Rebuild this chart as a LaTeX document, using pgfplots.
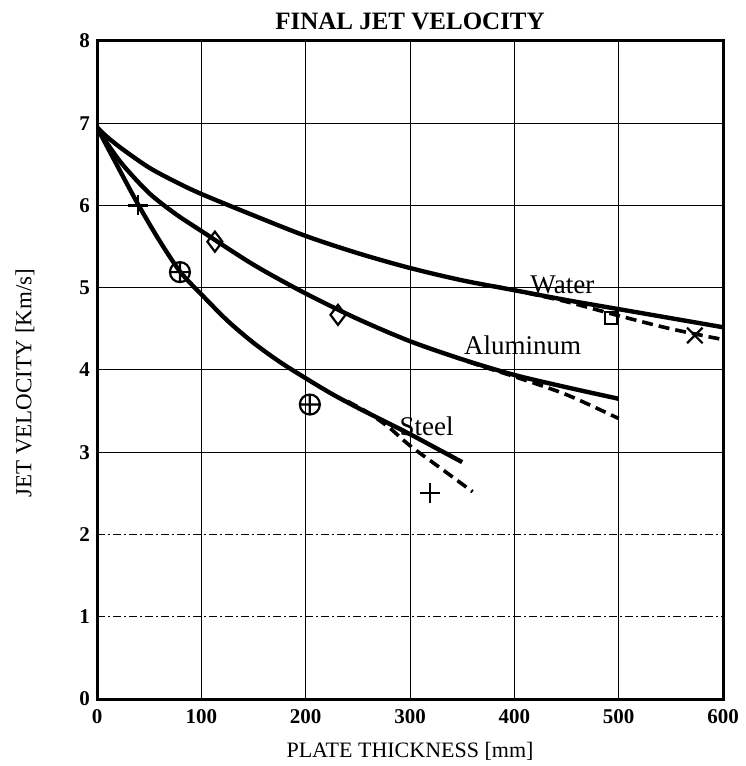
\documentclass[border=0pt]{standalone}
\usepackage{pgfplots}
\pgfplotsset{compat=1.18}
\usepackage{fontspec}
\setmainfont{Liberation Serif}
\usetikzlibrary{plotmarks}

\begin{document}
\begin{tikzpicture}
\begin{axis}[
  scale only axis, width=313pt, height=329pt,
  xmin=0, xmax=600, ymin=0, ymax=8,
  xtick={0,100,...,600}, ytick={0,3,4,5,6,7,8},
  extra y ticks={1,2},
  extra y tick style={grid style={black, line width=0.5pt,
      dash pattern=on 4pt off 1.5pt on 1pt off 1.5pt}},
  grid=major, grid style={black, line width=0.5pt},
  major tick length=0pt,
  axis line style={line width=1.5pt},
  /pgf/number format/assume math mode=true,
  ticklabel style={font=\fontsize{10.5}{12}\selectfont\bfseries},
  xticklabel style={yshift=-1.5pt},
  title={FINAL JET VELOCITY},
  title style={font=\fontsize{12.5}{14}\selectfont\bfseries,
      at={(axis description cs:0.5,1.03)}, anchor=center, yshift=-6pt},
  xlabel={PLATE THICKNESS [mm]},
  xlabel style={font=\fontsize{11}{13}\selectfont,
      at={(axis description cs:0.5,-0.08)}, anchor=center},
  ylabel={JET VELOCITY [Km/s]},
  ylabel style={font=\fontsize{11.5}{13}\selectfont,
      at={(axis description cs:-0.115,0.48)}, anchor=center},
]
% fitted curves (solid)
\addplot[black, line width=2.2pt, smooth] coordinates {
  (0,6.95)(10,6.83)(25,6.68)(50,6.46)(75,6.29)(100,6.14)(150,5.88)
  (200,5.63)(250,5.42)(300,5.24)(350,5.09)(400,4.97)(450,4.85)
  (500,4.74)(550,4.63)(600,4.52)};
\addplot[black, line width=2.2pt, smooth] coordinates {
  (0,6.95)(10,6.75)(25,6.49)(50,6.15)(75,5.90)(100,5.69)(150,5.28)
  (200,4.93)(250,4.62)(300,4.35)(350,4.13)(400,3.94)(450,3.79)(500,3.65)};
\addplot[black, line width=2.2pt, smooth] coordinates {
  (0,6.95)(20,6.47)(40,6.00)(60,5.57)(80,5.19)(100,4.92)(125,4.60)
  (150,4.33)(175,4.10)(200,3.90)(225,3.71)(250,3.54)(275,3.38)
  (300,3.22)(325,3.05)(350,2.88)};
% dashed branches
\addplot[black, line width=1.8pt, dash pattern=on 5.5pt off 3pt, smooth] coordinates {
  (380,5.02)(400,4.97)(450,4.83)(500,4.66)(550,4.50)(600,4.37)};
\addplot[black, line width=1.8pt, dash pattern=on 5.5pt off 3pt, smooth] coordinates {
  (340,4.17)(370,4.04)(400,3.92)(450,3.70)(500,3.41)};
\addplot[black, line width=1.8pt, dash pattern=on 5.5pt off 3pt, smooth] coordinates {
  (240,3.62)(260,3.48)(280,3.30)(300,3.08)(330,2.80)(360,2.52)};
% measured points
\addplot[only marks, black, mark=+, mark size=5pt, line width=1.1pt]
  coordinates {(39.6,6.00)(319,2.50)};
\addplot[only marks, black, mark=oplus, mark size=5pt, line width=1.1pt]
  coordinates {(79.5,5.19)(204,3.58)};
\addplot[only marks, black, mark=diamond, mark size=5pt, line width=1.1pt]
  coordinates {(113,5.56)(231,4.67)};
\addplot[only marks, black, mark=square, mark size=3pt, line width=1.1pt]
  coordinates {(493,4.63)};
\addplot[only marks, black, mark=x, mark size=5.5pt, line width=1.1pt]
  coordinates {(573,4.42)};
\node[font=\fontsize{13.5}{15}\selectfont] at (axis cs:446,5.03) {Water};
\node[font=\fontsize{13.5}{15}\selectfont] at (axis cs:408,4.30) {Aluminum};
\node[font=\fontsize{13.5}{15}\selectfont] at (axis cs:316,3.31) {Steel};
\end{axis}
\pgfresetboundingbox
\path (current axis.south west) ++(-48.5pt,-33.5pt)
  rectangle ([shift={(11pt,20.5pt)}]current axis.north east);
\end{tikzpicture}
\end{document}
